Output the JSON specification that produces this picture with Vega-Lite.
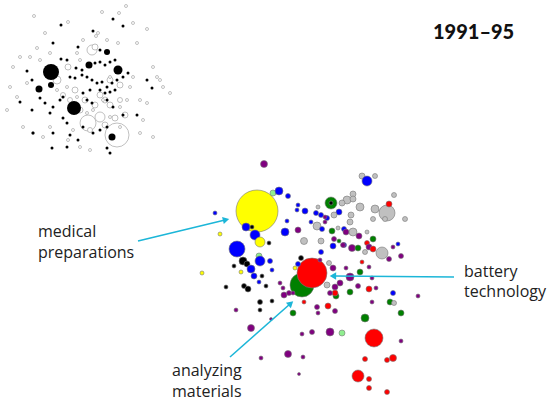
{
"$schema":"https://vega.github.io/schema/vega-lite/v6.json",
"width":556,"height":404,"padding":0,"autosize":"none",
"config":{"view":{"stroke":null}},
"datasets":{
"main":[
{"x":257,"y":211,"r":21,"c":"Y"},
{"x":387,"y":213,"r":8,"c":"S"},
{"x":382,"y":253,"r":6,"c":"S"},
{"x":237,"y":249,"r":8,"c":"B"},
{"x":302,"y":285,"r":12,"c":"G"},
{"x":312,"y":273,"r":15,"c":"R"},
{"x":374,"y":338,"r":9,"c":"R"},
{"x":358,"y":376,"r":6,"c":"R"},
{"x":264,"y":164,"r":3.5,"c":"P"},
{"x":273,"y":193,"r":3,"c":"L"},
{"x":279,"y":191,"r":4,"c":"B"},
{"x":288,"y":196,"r":2.5,"c":"B"},
{"x":215,"y":213,"r":2,"c":"B"},
{"x":220,"y":234,"r":2,"c":"Y"},
{"x":246,"y":227,"r":4,"c":"B"},
{"x":252,"y":227,"r":2,"c":"K"},
{"x":255,"y":235,"r":5,"c":"B"},
{"x":260,"y":242,"r":5,"c":"Y"},
{"x":269,"y":243,"r":2,"c":"K"},
{"x":285,"y":232,"r":4,"c":"B"},
{"x":287,"y":221,"r":2,"c":"B"},
{"x":259,"y":256,"r":3,"c":"L"},
{"x":260,"y":261,"r":5,"c":"B"},
{"x":243,"y":261,"r":4,"c":"K"},
{"x":247,"y":264,"r":3,"c":"K"},
{"x":234,"y":266,"r":2,"c":"K"},
{"x":251,"y":269,"r":4,"c":"B"},
{"x":254,"y":276,"r":3,"c":"B"},
{"x":262,"y":276,"r":2,"c":"K"},
{"x":202,"y":273,"r":2,"c":"Y"},
{"x":241,"y":272,"r":2,"c":"Y"},
{"x":270,"y":261,"r":2.5,"c":"B"},
{"x":272,"y":270,"r":2,"c":"B"},
{"x":259,"y":282,"r":2,"c":"B"},
{"x":266,"y":286,"r":2,"c":"K"},
{"x":244,"y":286,"r":2.5,"c":"K"},
{"x":248,"y":289,"r":3,"c":"K"},
{"x":226,"y":287,"r":2,"c":"K"},
{"x":260,"y":302,"r":2.5,"c":"K"},
{"x":260,"y":310,"r":2,"c":"K"},
{"x":272,"y":301,"r":2,"c":"K"},
{"x":236,"y":310,"r":2,"c":"P"},
{"x":251,"y":328,"r":3.5,"c":"P"},
{"x":271,"y":319,"r":1.5,"c":"P"},
{"x":280,"y":283,"r":2,"c":"P"},
{"x":283,"y":288,"r":2,"c":"P"},
{"x":284,"y":295,"r":3,"c":"P"},
{"x":289,"y":293,"r":2.5,"c":"P"},
{"x":293,"y":293,"r":2,"c":"P"},
{"x":362,"y":176,"r":3,"c":"S"},
{"x":367,"y":181,"r":5,"c":"B"},
{"x":375,"y":176,"r":2.5,"c":"S"},
{"x":331,"y":203,"r":6,"c":"G"},
{"x":331,"y":203,"r":2,"c":"K"},
{"x":353,"y":194,"r":3,"c":"S"},
{"x":347,"y":200,"r":4,"c":"S"},
{"x":353,"y":199,"r":3,"c":"S"},
{"x":342,"y":203,"r":3,"c":"S"},
{"x":360,"y":207,"r":4,"c":"S"},
{"x":389,"y":204,"r":3,"c":"R"},
{"x":394,"y":195,"r":2.5,"c":"S"},
{"x":375,"y":209,"r":4,"c":"S"},
{"x":373,"y":219,"r":2.5,"c":"S"},
{"x":385,"y":219,"r":2.5,"c":"S"},
{"x":405,"y":219,"r":2.5,"c":"S"},
{"x":298,"y":205,"r":2,"c":"B"},
{"x":297,"y":210,"r":2,"c":"B"},
{"x":305,"y":211,"r":3,"c":"B"},
{"x":316,"y":213,"r":2.5,"c":"B"},
{"x":321,"y":215,"r":2.5,"c":"B"},
{"x":339,"y":212,"r":3,"c":"B"},
{"x":327,"y":218,"r":2.5,"c":"B"},
{"x":334,"y":215,"r":3,"c":"S"},
{"x":318,"y":207,"r":2,"c":"S"},
{"x":325,"y":217,"r":2,"c":"P"},
{"x":350,"y":222,"r":3,"c":"S"},
{"x":351,"y":215,"r":3,"c":"S"},
{"x":298,"y":230,"r":3,"c":"P"},
{"x":311,"y":222,"r":2,"c":"B"},
{"x":317,"y":226,"r":4,"c":"S"},
{"x":325,"y":222,"r":2,"c":"P"},
{"x":332,"y":231,"r":3,"c":"G"},
{"x":322,"y":229,"r":2.5,"c":"B"},
{"x":338,"y":228,"r":2,"c":"S"},
{"x":344,"y":229,"r":2.5,"c":"B"},
{"x":346,"y":232,"r":3,"c":"P"},
{"x":353,"y":232,"r":4,"c":"S"},
{"x":359,"y":236,"r":3,"c":"P"},
{"x":367,"y":232,"r":2,"c":"S"},
{"x":304,"y":241,"r":3.5,"c":"S"},
{"x":321,"y":241,"r":3,"c":"S"},
{"x":334,"y":239,"r":2.5,"c":"P"},
{"x":339,"y":241,"r":2,"c":"G"},
{"x":344,"y":245,"r":2.5,"c":"B"},
{"x":333,"y":246,"r":3,"c":"B"},
{"x":343,"y":245,"r":2.5,"c":"P"},
{"x":352,"y":248,"r":3.5,"c":"P"},
{"x":358,"y":248,"r":3,"c":"G"},
{"x":367,"y":243,"r":2.5,"c":"R"},
{"x":369,"y":247,"r":3,"c":"P"},
{"x":373,"y":249,"r":3,"c":"R"},
{"x":373,"y":239,"r":3,"c":"G"},
{"x":393,"y":247,"r":2,"c":"P"},
{"x":398,"y":244,"r":2,"c":"B"},
{"x":401,"y":256,"r":2.5,"c":"P"},
{"x":389,"y":259,"r":2.5,"c":"P"},
{"x":329,"y":263,"r":2.5,"c":"S"},
{"x":365,"y":252,"r":2.5,"c":"S"},
{"x":321,"y":252,"r":2.5,"c":"B"},
{"x":320,"y":260,"r":2,"c":"P"},
{"x":333,"y":268,"r":3,"c":"P"},
{"x":346,"y":268,"r":2,"c":"P"},
{"x":362,"y":262,"r":2,"c":"R"},
{"x":369,"y":267,"r":2,"c":"P"},
{"x":360,"y":272,"r":3,"c":"G"},
{"x":298,"y":264,"r":2.5,"c":"B"},
{"x":301,"y":258,"r":2.5,"c":"K"},
{"x":295,"y":268,"r":2,"c":"Y"},
{"x":350,"y":277,"r":4,"c":"P"},
{"x":340,"y":283,"r":3,"c":"P"},
{"x":335,"y":287,"r":3,"c":"P"},
{"x":327,"y":285,"r":3,"c":"S"},
{"x":358,"y":286,"r":2.5,"c":"P"},
{"x":372,"y":278,"r":2,"c":"P"},
{"x":376,"y":288,"r":2,"c":"P"},
{"x":369,"y":289,"r":3,"c":"R"},
{"x":350,"y":292,"r":3,"c":"G"},
{"x":336,"y":296,"r":3,"c":"G"},
{"x":393,"y":293,"r":2.5,"c":"B"},
{"x":418,"y":296,"r":2,"c":"P"},
{"x":390,"y":302,"r":3,"c":"G"},
{"x":394,"y":303,"r":2.5,"c":"S"},
{"x":372,"y":302,"r":2,"c":"P"},
{"x":335,"y":293,"r":3,"c":"R"},
{"x":330,"y":293,"r":2.5,"c":"P"},
{"x":293,"y":313,"r":3,"c":"G"},
{"x":304,"y":302,"r":2,"c":"R"},
{"x":328,"y":306,"r":3,"c":"R"},
{"x":317,"y":307,"r":2.5,"c":"P"},
{"x":318,"y":313,"r":2,"c":"P"},
{"x":335,"y":311,"r":2.5,"c":"P"},
{"x":365,"y":318,"r":4,"c":"G"},
{"x":401,"y":313,"r":3,"c":"G"},
{"x":302,"y":334,"r":2,"c":"P"},
{"x":312,"y":332,"r":2.5,"c":"P"},
{"x":330,"y":332,"r":4,"c":"P"},
{"x":342,"y":333,"r":3,"c":"L"},
{"x":401,"y":341,"r":2,"c":"P"},
{"x":288,"y":354,"r":3.5,"c":"P"},
{"x":261,"y":358,"r":2,"c":"P"},
{"x":303,"y":357,"r":2,"c":"P"},
{"x":299,"y":374,"r":1.5,"c":"P"},
{"x":365,"y":359,"r":2.5,"c":"R"},
{"x":387,"y":360,"r":2.5,"c":"R"},
{"x":393,"y":358,"r":3.5,"c":"R"},
{"x":369,"y":379,"r":2.5,"c":"R"},
{"x":369,"y":388,"r":2.5,"c":"R"},
{"x":387,"y":392,"r":2.5,"c":"R"}
],
"open":[
{"x":117,"y":135,"r":12},{"x":88,"y":123,"r":8},{"x":92,"y":50,"r":5},{"x":100,"y":117,"r":5},{"x":57,"y":80,"r":4},{"x":68,"y":67,"r":3},{"x":95,"y":47,"r":3},
{"x":100,"y":95,"r":3},{"x":105,"y":100,"r":3},{"x":110,"y":105,"r":3},{"x":95,"y":105,"r":3},{"x":85,"y":100,"r":3},{"x":120,"y":85,"r":3},{"x":75,"y":90,"r":3},{"x":80,"y":110,"r":3},{"x":110,"y":80,"r":3},{"x":125,"y":115,"r":3},{"x":90,"y":130,"r":2.5},{"x":105,"y":125,"r":3},{"x":70,"y":100,"r":2.5},{"x":63,"y":95,"r":2.5},{"x":115,"y":118,"r":3},{"x":120,"y":100,"r":2.5},
{"x":126,"y":6,"r":1.5},{"x":102,"y":12,"r":1.5},{"x":119,"y":13,"r":1.5},{"x":34,"y":16,"r":1.5},{"x":68,"y":22,"r":1.5},{"x":96,"y":36,"r":1.5},{"x":98,"y":33,"r":1.5},{"x":45,"y":33,"r":1.5},{"x":133,"y":23,"r":1.5},{"x":147,"y":29,"r":1.5},{"x":37,"y":48,"r":1.5},{"x":20,"y":57,"r":1.5},{"x":13,"y":67,"r":1.5},{"x":10,"y":87,"r":1.5},{"x":7,"y":110,"r":1.5},{"x":23,"y":127,"r":1.5},{"x":33,"y":133,"r":1.5},{"x":43,"y":137,"r":1.5},{"x":153,"y":67,"r":1.5},{"x":157,"y":77,"r":1.5},{"x":163,"y":87,"r":1.5},{"x":170,"y":93,"r":1.5},{"x":147,"y":103,"r":1.5},{"x":143,"y":120,"r":1.5},{"x":140,"y":133,"r":1.5},{"x":153,"y":137,"r":1.5},{"x":160,"y":80,"r":1.5},{"x":127,"y":100,"r":1.5},{"x":120,"y":107,"r":1.5},{"x":77,"y":53,"r":1.5},{"x":80,"y":60,"r":1.5},{"x":107,"y":40,"r":1.5},{"x":118,"y":43,"r":1.5},{"x":50,"y":53,"r":1.5},{"x":40,"y":60,"r":1.5},{"x":30,"y":57,"r":1.5},{"x":57,"y":90,"r":1.5},{"x":77,"y":97,"r":1.5},{"x":93,"y":110,"r":1.5},{"x":87,"y":113,"r":1.5},{"x":110,"y":117,"r":1.5},{"x":120,"y":127,"r":1.5},{"x":73,"y":130,"r":1.5},{"x":50,"y":127,"r":1.5},{"x":90,"y":150,"r":1.5},{"x":80,"y":147,"r":1.5},{"x":68,"y":140,"r":1.5},{"x":137,"y":43,"r":1.5},{"x":83,"y":40,"r":1.5},{"x":27,"y":83,"r":1.5},{"x":17,"y":97,"r":1.5},{"x":47,"y":73,"r":1.5},{"x":67,"y":87,"r":1.5},{"x":103,"y":100,"r":1.5},{"x":130,"y":87,"r":1.5},{"x":133,"y":77,"r":1.5},{"x":110,"y":77,"r":1.5},{"x":140,"y":100,"r":1.5}
],
"black":[
{"x":51,"y":72,"r":8},{"x":74,"y":108,"r":7},{"x":118,"y":70,"r":4.5},{"x":39,"y":89,"r":3.5},{"x":107,"y":52,"r":3},{"x":89,"y":65,"r":3.5},{"x":112,"y":137,"r":3.5},{"x":51,"y":85,"r":3},
{"x":61,"y":25,"r":1.5},{"x":113,"y":19,"r":1.5},{"x":123,"y":26,"r":1.5},{"x":93,"y":31,"r":1.5},{"x":53,"y":43,"r":1.5},{"x":78,"y":47,"r":1.5},{"x":100,"y":50,"r":1.5},{"x":61,"y":59,"r":1.5},{"x":67,"y":60,"r":1.5},{"x":76,"y":68,"r":1.5},{"x":82,"y":70,"r":1.5},{"x":95,"y":63,"r":1.5},{"x":100,"y":62,"r":1.5},{"x":105,"y":65,"r":1.5},{"x":110,"y":62,"r":1.5},{"x":115,"y":60,"r":1.5},{"x":27,"y":71,"r":1.5},{"x":32,"y":80,"r":1.5},{"x":70,"y":77,"r":1.5},{"x":75,"y":78,"r":1.5},{"x":82,"y":75,"r":1.5},{"x":87,"y":77,"r":1.5},{"x":92,"y":80,"r":1.5},{"x":97,"y":83,"r":1.5},{"x":102,"y":82,"r":1.5},{"x":107,"y":87,"r":1.5},{"x":112,"y":83,"r":1.5},{"x":117,"y":80,"r":1.5},{"x":123,"y":77,"r":1.5},{"x":128,"y":73,"r":1.5},{"x":100,"y":90,"r":1.5},{"x":105,"y":93,"r":1.5},{"x":110,"y":92,"r":1.5},{"x":115,"y":90,"r":1.5},{"x":90,"y":90,"r":1.5},{"x":83,"y":93,"r":1.5},{"x":63,"y":97,"r":1.5},{"x":40,"y":98,"r":1.5},{"x":45,"y":103,"r":1.5},{"x":53,"y":107,"r":1.5},{"x":60,"y":100,"r":1.5},{"x":20,"y":102,"r":1.5},{"x":32,"y":110,"r":1.5},{"x":50,"y":113,"r":1.5},{"x":63,"y":118,"r":1.5},{"x":67,"y":123,"r":1.5},{"x":87,"y":100,"r":1.5},{"x":92,"y":103,"r":1.5},{"x":107,"y":100,"r":1.5},{"x":113,"y":107,"r":1.5},{"x":123,"y":115,"r":1.5},{"x":137,"y":115,"r":1.5},{"x":147,"y":80,"r":1.5},{"x":152,"y":88,"r":1.5},{"x":83,"y":127,"r":1.5},{"x":93,"y":133,"r":1.5},{"x":100,"y":130,"r":1.5},{"x":107,"y":127,"r":1.5},{"x":70,"y":135,"r":1.5},{"x":53,"y":133,"r":1.5},{"x":78,"y":140,"r":1.5},{"x":107,"y":148,"r":1.5},{"x":110,"y":153,"r":1.5},{"x":67,"y":147,"r":1.5},{"x":52,"y":148,"r":1.5},{"x":33,"y":133,"r":1.5}
],
"arrows":[
{"x":138,"y":241,"x2":225,"y2":220,"a":76.4},
{"x":454,"y":277,"x2":334,"y2":276,"a":270.5},
{"x":230,"y":357,"x2":290,"y2":304,"a":48.4}
],
"labels":[
{"x":38,"y":237,"t":"medical"},
{"x":38,"y":258,"t":"preparations"},
{"x":464,"y":277,"t":"battery"},
{"x":464,"y":297,"t":"technology"},
{"x":172,"y":376,"t":"analyzing"},
{"x":172,"y":397,"t":"materials"}
],
"title":[{"x":433,"y":39,"t":"1991–95"}]
},
"layer":[
{"data":{"name":"open"},"mark":{"type":"point","filled":true,"fill":"white","stroke":"#b0b0b0","strokeWidth":0.8,"opacity":1},
"encoding":{
"x":{"field":"x","type":"quantitative","scale":{"domain":[0,556],"nice":false,"zero":false},"axis":null},
"y":{"field":"y","type":"quantitative","scale":{"domain":[0,404],"nice":false,"zero":false,"reverse":true},"axis":null},
"size":{"field":"r","type":"quantitative","scale":{"type":"pow","exponent":2,"domain":[0,30],"range":[0,3600]},"legend":null}}},
{"data":{"name":"black"},"mark":{"type":"point","filled":true,"fill":"black","stroke":"black","strokeWidth":0,"opacity":1},
"encoding":{
"x":{"field":"x","type":"quantitative","scale":{"domain":[0,556],"nice":false,"zero":false},"axis":null},
"y":{"field":"y","type":"quantitative","scale":{"domain":[0,404],"nice":false,"zero":false,"reverse":true},"axis":null},
"size":{"field":"r","type":"quantitative","scale":{"type":"pow","exponent":2,"domain":[0,30],"range":[0,3600]},"legend":null}}},
{"data":{"name":"main"},"mark":{"type":"point","filled":true,"stroke":"#777","strokeWidth":0.6,"opacity":1},
"encoding":{
"x":{"field":"x","type":"quantitative","scale":{"domain":[0,556],"nice":false,"zero":false},"axis":null},
"y":{"field":"y","type":"quantitative","scale":{"domain":[0,404],"nice":false,"zero":false,"reverse":true},"axis":null},
"size":{"field":"r","type":"quantitative","scale":{"type":"pow","exponent":2,"domain":[0,30],"range":[0,3600]},"legend":null},
"color":{"field":"c","type":"nominal","scale":{"domain":["Y","B","P","G","R","S","L","K"],"range":["#ffff00","#0000ff","#800080","#008000","#ff0000","#c0c0c0","#90ee90","#000000"]},"legend":null}}},
{"data":{"name":"arrows"},"mark":{"type":"rule","color":"#1cb6d8","strokeWidth":1.6},
"encoding":{
"x":{"field":"x","type":"quantitative","scale":{"domain":[0,556],"nice":false,"zero":false},"axis":null},
"y":{"field":"y","type":"quantitative","scale":{"domain":[0,404],"nice":false,"zero":false,"reverse":true},"axis":null},
"x2":{"field":"x2"},"y2":{"field":"y2"}}},
{"data":{"name":"arrows"},"mark":{"type":"point","shape":"triangle","filled":true,"color":"#1cb6d8","size":55,"opacity":1},
"encoding":{
"x":{"field":"x2","type":"quantitative","scale":{"domain":[0,556],"nice":false,"zero":false},"axis":null},
"y":{"field":"y2","type":"quantitative","scale":{"domain":[0,404],"nice":false,"zero":false,"reverse":true},"axis":null},
"angle":{"field":"a","type":"quantitative","scale":{"domain":[0,360],"range":[0,360]},"legend":null}}},
{"data":{"name":"labels"},"mark":{"type":"text","align":"left","baseline":"alphabetic","font":"Open Sans","fontSize":16,"color":"#222"},
"encoding":{
"x":{"field":"x","type":"quantitative","scale":{"domain":[0,556],"nice":false,"zero":false},"axis":null},
"y":{"field":"y","type":"quantitative","scale":{"domain":[0,404],"nice":false,"zero":false,"reverse":true},"axis":null},
"text":{"field":"t","type":"nominal"}}},
{"data":{"name":"title"},"mark":{"type":"text","align":"left","baseline":"alphabetic","font":"Lato","fontSize":20,"fontWeight":900,"color":"#111"},
"encoding":{
"x":{"field":"x","type":"quantitative","scale":{"domain":[0,556],"nice":false,"zero":false},"axis":null},
"y":{"field":"y","type":"quantitative","scale":{"domain":[0,404],"nice":false,"zero":false,"reverse":true},"axis":null},
"text":{"field":"t","type":"nominal"}}}
]
}
